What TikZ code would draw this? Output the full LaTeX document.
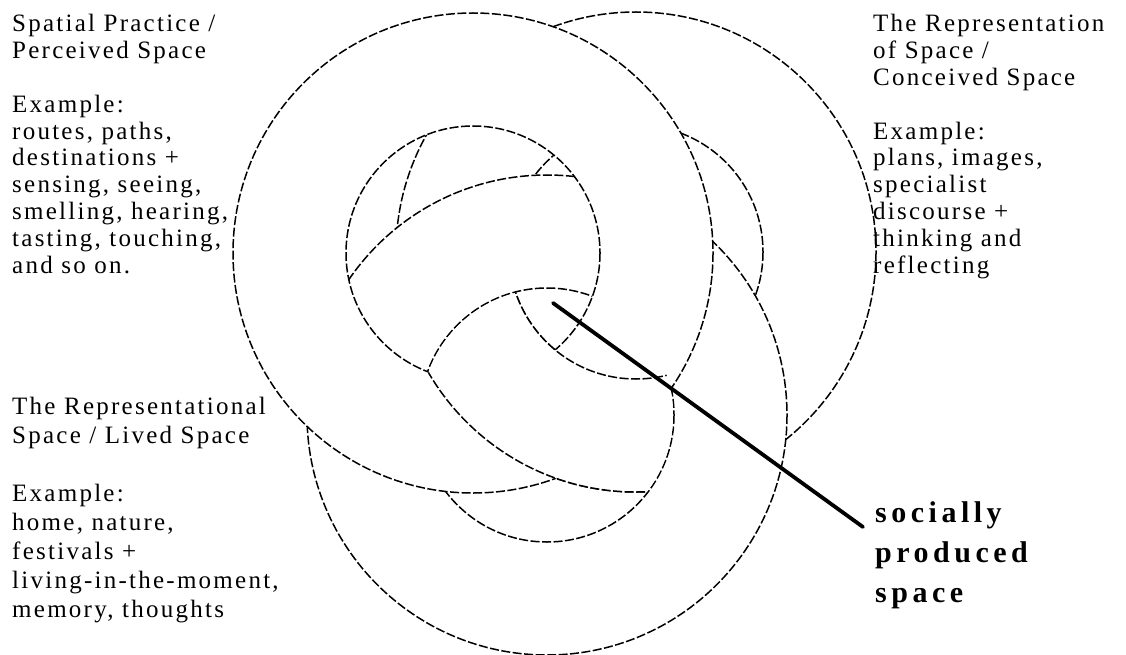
\documentclass[tikz,border=0pt]{standalone}
\usepackage{fontspec}
\setmainfont{Liberation Serif}
\newfontfamily\lsfont[LetterSpace=9]{Liberation Serif}
\newfontfamily\lsboldfont[LetterSpace=15]{Liberation Serif}
\newcommand\drawring[1]{%
  \fill[ringfill] (#1) circle[radius=240] (#1) circle[radius=127];
  \draw[ringline] (#1) circle[radius=240];
  \draw[ringline] (#1) circle[radius=127];
}
\begin{document}
\begin{tikzpicture}[x=1pt,y=-1pt,
  ringline/.style={draw=black, line width=1.5pt, dash pattern=on 9pt off 2.5pt},
  ringfill/.style={fill=white, even odd rule},
  txt/.style={align=left, inner sep=0pt, font=\lsfont\fontsize{25}{26.8}\selectfont},
  txtb/.style={align=left, inner sep=0pt, font=\lsfont\fontsize{25}{29}\selectfont},
  bigtxt/.style={align=left, inner sep=0pt, font=\lsboldfont\bfseries\fontsize{30}{40}\selectfont},
  pointer/.style={draw=black, line width=3.8pt, line cap=round}]
\useasboundingbox (0,0) rectangle (1126,655);
\coordinate (A) at (473,253);
\coordinate (B) at (636,252);
\coordinate (C) at (547,415);
% rings: B lowest, then C, then A
\drawring{B}
\drawring{C}
\drawring{A}
% B passes over A inside the hole of C
\begin{scope}
  \clip (C) circle[radius=126];
  \drawring{B}
\end{scope}
% labels (base anchor = baseline of the last line)
\node[txt, anchor=base west] (sp) at (12,273) {Spatial Practice /\\Perceived Space\\[26.8pt]Example:\\routes, paths,\\destinations +\\sensing, seeing,\\smelling, hearing,\\tasting, touching,\\and so on.};
\node[txt, anchor=base west] (rs) at (873,273) {The Representation\\of Space /\\Conceived Space\\[26.8pt]Example:\\plans, images,\\specialist\\discourse +\\thinking and\\reflecting};
\node[txtb, anchor=base west] (ls) at (12,617) {The Representational\\Space / Lived Space\\[29pt]Example:\\home, nature,\\festivals +\\living-in-the-moment,\\memory, thoughts};
\node[bigtxt, anchor=base west] (spl) at (875,602) {socially\\produced\\space};
\coordinate (pinstart) at (553,303);
\coordinate (pinend) at (863,527);
\draw[pointer] (pinstart) -- (pinend);
\end{tikzpicture}
\end{document}
